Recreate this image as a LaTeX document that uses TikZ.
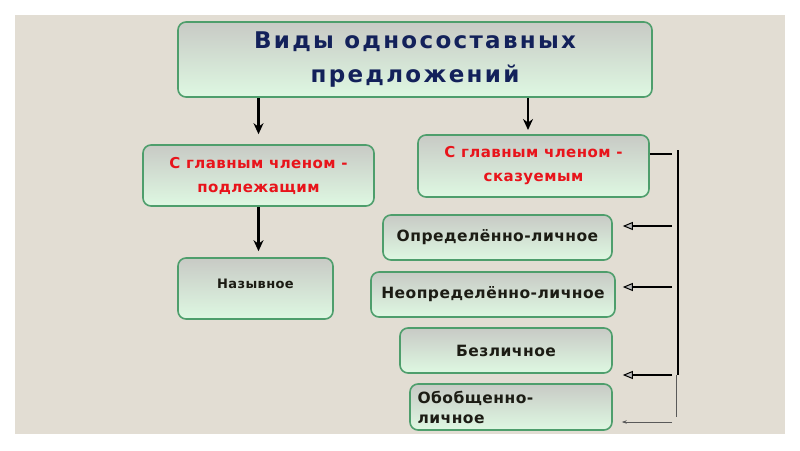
\documentclass[tikz,border=0pt]{standalone}
\usepackage{fontspec}
\setmainfont{DejaVu Sans}
\newfontfamily\titlefont[LetterSpace=10]{DejaVu Sans}
\newfontfamily\itemfont[LetterSpace=3]{DejaVu Sans}
\newfontfamily\redfont[LetterSpace=3]{DejaVu Sans}
\usetikzlibrary{arrows.meta}
\definecolor{bgc}{HTML}{E2DDD3}
\definecolor{bord}{HTML}{4E9E6C}
\definecolor{topc}{HTML}{C8CAC5}
\definecolor{botc}{HTML}{DEF8E2}
\definecolor{navy}{HTML}{13215A}
\definecolor{redt}{HTML}{E8141B}
\definecolor{darkt}{HTML}{1C1C14}
\begin{document}
\begin{tikzpicture}[x=1pt,y=-1pt,
  box/.style={rectangle, rounded corners=8pt, draw=bord, line width=1.6pt,
    top color=topc, bottom color=botc, inner sep=0pt, align=center},
  itemtext/.style={text=darkt, font=\itemfont\fontsize{15.5}{20}\selectfont\bfseries},
  redtext/.style={text=redt, font=\redfont\fontsize{15}{24}\selectfont\bfseries},
  bigarrow/.style={line width=2.2pt, -{Stealth[length=11pt,width=10pt]}},
  sidearrow/.style={line width=1.4pt, -{Triangle[open,length=10pt,width=8pt,line width=1pt,fill=gray!50]}},
  thinarrow/.style={line width=0.6pt, -{Stealth[length=5pt,width=3.5pt]}}]
\useasboundingbox (0,0) rectangle (800,450);
\fill[white] (0,0) rectangle (800,450);
\fill[bgc] (15,15) rectangle (785,434);

\node[box, minimum width=474pt, minimum height=75pt, text=navy,
  font=\titlefont\fontsize{23}{34}\selectfont\bfseries] (t) at (415,59.5)
  {Виды односоставных\\предложений};
\node[box, minimum width=231pt, minimum height=61pt, redtext] (l) at (258.5,175.5)
  {С главным членом -\\подлежащим};
\node[box, minimum width=231pt, minimum height=62pt, redtext] (r) at (533.5,166)
  {С главным членом -\\сказуемым};
\node[box, minimum width=155pt, minimum height=61pt] (n) at (255.5,288.5) {};
\node[text=darkt, font=\itemfont\fontsize{13}{15}\selectfont\bfseries] (nt) at (255.5,284) {Назывное};
\node[box, minimum width=229pt, minimum height=45pt, itemtext] (o1) at (497.5,237.5) {Определённо-личное};
\node[box, minimum width=244pt, minimum height=45pt, itemtext] (o2) at (493,294.5) {Неопределённо-личное};
\node[box, minimum width=212pt, minimum height=45pt, itemtext] (o3) at (506,350.5) {Безличное};
\node[box, minimum width=202pt, minimum height=46pt] (o4) at (511,407) {};
\node[itemtext, align=left, anchor=west] (o4t)
  at (414,407) {Обобщенно-\\личное};

\coordinate (v1) at (678,150);
\coordinate (v2) at (678,375);
\coordinate (v3) at (676,375);
\coordinate (v4) at (676,417);
\coordinate (h0) at (672,154);
\coordinate (h1) at (672,226);
\coordinate (h2) at (672,287);
\coordinate (h3) at (672,375);
\coordinate (h4) at (672,422);

\draw[bigarrow, shorten >=10pt] (t.south -| l.north) -- (l.north);
\draw[bigarrow, shorten >=5pt] (t.south -| 528,0) -- (528,135);
\draw[bigarrow, shorten >=6pt] (l.south) -- (l.south |- n.north);

\draw[line width=1.4pt] (r.east |- h0) -- (h0);
\draw[line width=2pt] (v1) -- (v2);
\draw[line width=0.7pt, gray!70!black] (v3) -- (v4);
\draw[sidearrow, shorten >=10pt] (h1) -- (o1.east |- h1);
\draw[sidearrow, shorten >=7pt] (h2) -- (o2.east |- h2);
\draw[sidearrow, shorten >=10pt] (h3) -- (o3.east |- h3);
\draw[thinarrow, gray!70!black, shorten >=9pt] (h4) -- (o4.east |- h4);
\end{tikzpicture}
\end{document}
